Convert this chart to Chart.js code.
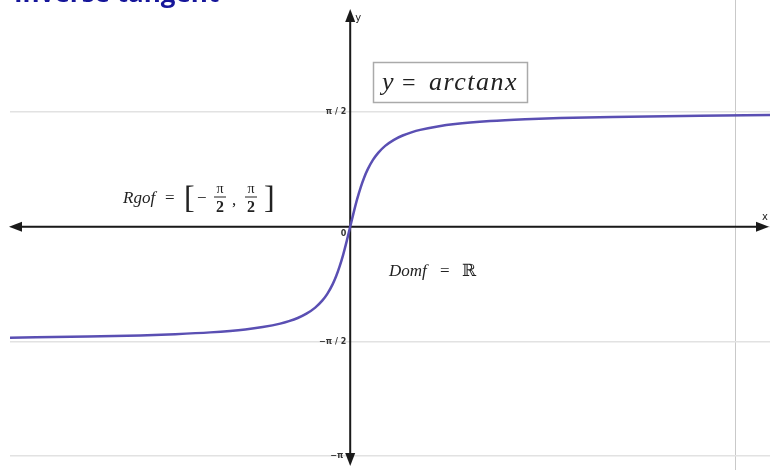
<!DOCTYPE html>
<html>
<head>
<meta charset="utf-8">
<script src="https://cdn.jsdelivr.net/npm/chart.js@4/dist/chart.umd.min.js"></script>
<style>
  html, body { margin: 0; padding: 0; background: #fff; overflow: hidden; }
  #wrap { width: 770px; height: 470px; position: relative; }
</style>
</head>
<body>
<div id="wrap"><canvas id="graph" width="770" height="470"></canvas></div>
<script>
// points read along y = arctan x
let xVals = [-19.45, -15, -12, -10, -8, -6, -5, -4, -3.5, -3, -2.5, -2, -1.6, -1.3, -1, -0.8, -0.6, -0.4, -0.2, 0,
             0.2, 0.4, 0.6, 0.8, 1, 1.3, 1.6, 2, 2.5, 3, 3.5, 4, 5, 6, 8, 10, 12, 15, 20, 24];
let yVals = [-1.519, -1.504, -1.488, -1.471, -1.446, -1.406, -1.373, -1.326, -1.292, -1.249, -1.190, -1.107, -1.012, -0.915, -0.785, -0.675, -0.540, -0.381, -0.197, 0,
             0.197, 0.381, 0.540, 0.675, 0.785, 0.915, 1.012, 1.107, 1.190, 1.249, 1.292, 1.326, 1.373, 1.406, 1.446, 1.471, 1.488, 1.504, 1.521, 1.529];

// y ticks at multiples of pi/2
let yTickVals = [-Math.PI, -Math.PI / 2, 0, Math.PI / 2, Math.PI];
let yTickLabels = ['\u2212\u03c0', '\u2212\u03c0 / 2', '0', '\u03c0 / 2', '\u03c0'];
let xGridVals = [22];

let pts = xVals.map((x, i) => ({ x: x, y: yVals[i] }));

let mathFont = '"Liberation Serif", "DejaVu Serif", serif';

function arrow(ctx, x, y, dir) {
    ctx.beginPath();
    if (dir == 'l') { ctx.moveTo(x, y); ctx.lineTo(x + 13, y - 5); ctx.lineTo(x + 13, y + 5); }
    if (dir == 'r') { ctx.moveTo(x, y); ctx.lineTo(x - 13, y - 5); ctx.lineTo(x - 13, y + 5); }
    if (dir == 'u') { ctx.moveTo(x, y); ctx.lineTo(x - 5, y + 13); ctx.lineTo(x + 5, y + 13); }
    if (dir == 'd') { ctx.moveTo(x, y); ctx.lineTo(x - 5, y - 13); ctx.lineTo(x + 5, y - 13); }
    ctx.closePath();
    ctx.fill();
}

function frac(ctx, top, bottom, cx, y) {
    // small stacked fraction centred at cx, bar at y
    ctx.save();
    ctx.textAlign = 'center';
    ctx.font = '14px ' + mathFont;
    ctx.fillText(top, cx, y - 4);
    ctx.font = 'bold 16px ' + mathFont;
    ctx.fillText(bottom, cx, y + 15);
    ctx.fillRect(cx - 6, y - 0.5, 12, 1);
    ctx.restore();
}

let axesPlugin = {
    id: 'axes',
    beforeDatasetsDraw(chart) {
        let ctx = chart.ctx;
        let sx = chart.scales.x, sy = chart.scales.y;
        let ox = sx.getPixelForValue(0), oy = sy.getPixelForValue(0);
        ctx.save();
        ctx.strokeStyle = '#1a1a1a';
        ctx.fillStyle = '#1a1a1a';
        ctx.lineWidth = 2;
        ctx.beginPath();
        ctx.moveTo(14, oy); ctx.lineTo(764, oy);
        ctx.moveTo(ox, 14); ctx.lineTo(ox, 460);
        ctx.stroke();
        arrow(ctx, 9, oy, 'l');
        arrow(ctx, 769, oy, 'r');
        arrow(ctx, ox, 9, 'u');
        arrow(ctx, ox, 466, 'd');
        ctx.restore();
    },
    afterDraw(chart) {
        let ctx = chart.ctx;
        let sx = chart.scales.x, sy = chart.scales.y;
        let ox = sx.getPixelForValue(0), oy = sy.getPixelForValue(0);
        ctx.save();

        // tick labels on the y axis
        ctx.fillStyle = '#333';
        ctx.font = 'bold 8px "DejaVu Sans", sans-serif';
        ctx.textAlign = 'right';
        ctx.textBaseline = 'middle';
        yTickVals.forEach((v, i) => {
            let py = sy.getPixelForValue(v);
            if (v == 0) ctx.fillText(yTickLabels[i], ox - 4, py + 7);
            else if (v == -Math.PI) ctx.fillText(yTickLabels[i], ox - 7, py);
            else ctx.fillText(yTickLabels[i], ox - 4, py);
        });

        // axis names
        ctx.font = '10px "DejaVu Sans", sans-serif';
        ctx.textAlign = 'left';
        ctx.fillStyle = '#222';
        ctx.fillText('y', ox + 5, 18);
        ctx.fillText('x', 762, oy - 9);

        // heading, mostly above the page edge
        ctx.font = 'bold 26px "Open Sans", "DejaVu Sans", sans-serif';
        ctx.fillStyle = '#16169a';
        ctx.textBaseline = 'alphabetic';
        ctx.fillText('Inverse tangent', 14, 1.5);

        // formula box
        ctx.fillStyle = '#fff';
        ctx.fillRect(373, 62, 155, 41);
        ctx.strokeStyle = '#aaa';
        ctx.lineWidth = 1.5;
        ctx.strokeRect(373.5, 62.5, 154, 40);
        ctx.fillStyle = '#222';
        ctx.font = 'italic 26px ' + mathFont;
        ctx.fillText('y', 382, 90);
        ctx.font = '24px ' + mathFont;
        ctx.fillText('=', 402, 90);
        ctx.font = 'italic 26px ' + mathFont;
        ctx.letterSpacing = '1.5px';
        ctx.fillText('arctanx', 429, 90);
        ctx.letterSpacing = '0px';

        // range label
        ctx.font = 'italic 17px ' + mathFont;
        ctx.fillText('Rgof', 123, 203);
        ctx.font = '17px ' + mathFont;
        ctx.fillText('=', 165, 203);
        ctx.font = '32px ' + mathFont;
        ctx.fillText('[', 184, 208);
        ctx.font = '17px ' + mathFont;
        ctx.fillText('\u2212', 197, 203);
        frac(ctx, '\u03c0', '2', 220, 197);
        ctx.font = '17px ' + mathFont;
        ctx.fillText(',', 232, 205);
        frac(ctx, '\u03c0', '2', 251, 197);
        ctx.font = '32px ' + mathFont;
        ctx.fillText(']', 264, 208);

        // domain label
        ctx.font = 'italic 17px ' + mathFont;
        ctx.fillText('Domf', 389, 276);
        ctx.font = '17px ' + mathFont;
        ctx.fillText('=', 440, 276);
        ctx.font = '17px "DejaVu Serif", serif';
        ctx.fillText('\u211d', 462, 276);

        ctx.restore();
    }
};

let ctx = document.getElementById('graph').getContext('2d');

let chart = new Chart(ctx, {
    type: 'line',
    data: {
        datasets: [{
            data: pts,
            borderColor: '#5a4fb3',
            borderWidth: 2.5,
            pointRadius: 0,
            cubicInterpolationMode: 'monotone',
            fill: false
        }]
    },
    options: {
        responsive: false,
        animation: false,
        events: [],
        layout: { padding: { left: 10, right: 0, top: 0, bottom: 0 } },
        plugins: { legend: { display: false }, tooltip: { enabled: false } },
        scales: {
            x: {
                type: 'linear',
                min: -19.45,
                max: 24,
                afterBuildTicks: (scale) => { scale.ticks = xGridVals.map(v => ({ value: v })); },
                ticks: { display: false },
                border: { display: false },
                grid: { color: '#c9c9c9', lineWidth: 1, drawTicks: false }
            },
            y: {
                type: 'linear',
                min: -3.33,
                max: 3.104,
                afterBuildTicks: (scale) => { scale.ticks = yTickVals.map(v => ({ value: v })); },
                ticks: { display: false },
                border: { display: false },
                grid: { color: '#e2e2e2', lineWidth: 1.5, drawTicks: false }
            }
        }
    },
    plugins: [axesPlugin]
});
</script>
</body>
</html>
